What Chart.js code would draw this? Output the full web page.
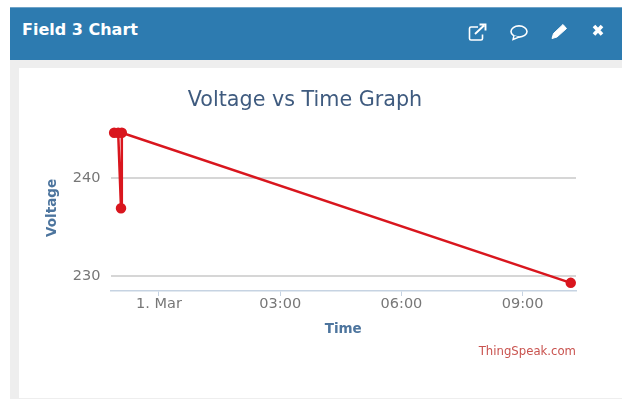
<!DOCTYPE html>
<html lang="en">
<head>
  <meta charset="UTF-8" />
  <title>Field 3 Chart</title>
  <script src="https://cdn.jsdelivr.net/npm/chart.js"></script>
  <style>
    html, body { margin: 0; padding: 0; background: #fff; overflow: hidden; }
    #page { position: relative; width: 622px; height: 400px; font-family: "DejaVu Sans", sans-serif; }
    #panel { position: absolute; left: 10px; top: 7px; width: 612px; height: 392px; background: #eeeeee; }
    #head { position: absolute; left: 0; top: 0; width: 612px; height: 53px; background: #2d7bb0; border-top: 1px solid #6fa3c8; box-sizing: border-box; }
    #head h1 { position: absolute; left: 12px; top: 11px; margin: 0; font-size: 16px; line-height: 22px; font-weight: bold; color: #fff; }
    #head svg { position: absolute; left: 0; top: 0; }
    #inner { position: absolute; left: 9px; top: 61px; width: 603px; height: 330px; background: #fff; }
    #chartBox { position: absolute; left: 0; top: 0; width: 622px; height: 400px; }
    #credit { position: absolute; right: 46px; top: 343px; font-size: 11.7px; line-height: 16px; color: #c9534f; }
  </style>
</head>

<body>
  <div id="page">
    <div id="panel">
      <div id="head">
        <h1>Field 3 Chart</h1>
        <svg width="612" height="53" viewBox="0 0 612 53">
          <!-- external link -->
          <path d="M468 19 h-7 a1.5 1.5 0 0 0 -1.5 1.5 v10 a1.5 1.5 0 0 0 1.5 1.5 h10 a1.5 1.5 0 0 0 1.5 -1.5 v-4" fill="none" stroke="#fff" stroke-width="1.6" />
          <path d="M465 26 L474 17.5 M469.5 16.5 h6 v6" fill="none" stroke="#fff" stroke-width="1.9" />
          <!-- comment -->
          <ellipse cx="509" cy="23.5" rx="8" ry="5.6" fill="none" stroke="#fff" stroke-width="1.6" />
          <path d="M504 27.5 L503 31.5 L509 29.2" fill="#2d7bb0" stroke="#fff" stroke-width="1.4" />
          <!-- pencil -->
          <path d="M542 30.5 L543.5 25.5 L553 16.5 L556.5 20.5 L547 29 Z" fill="#fff" stroke="#fff" stroke-width="1" stroke-linejoin="round" />
          <!-- close -->
          <path d="M584 18 L592 26.5 M592 18 L584 26.5" fill="none" stroke="#fff" stroke-width="3.6" />
        </svg>
      </div>
      <div id="inner"></div>
    </div>
    <div id="chartBox"><canvas id="voltageChart" width="622" height="400"></canvas></div>
    <div id="credit">ThingSpeak.com</div>
  </div>

  <script>
    // hours counted from midnight on 1 March
    const timeHours = [-1.11, -1.01, -0.94, -0.92, 10.19];
    const voltage = [244.6, 244.6, 236.9, 244.6, 229.3];
    const xTickHours = [0, 3, 6, 9];
    const xTickLabels = ['1. Mar', '03:00', '06:00', '09:00'];
    const yTicks = [230, 240];

    const gray = '#777777';
    const axisBlue = '#4d759e';
    const axisLine = '#c6d3e2';

    new Chart(document.getElementById('voltageChart'), {
      type: 'line',
      data: {
        datasets: [{
          data: timeHours.map((t, i) => ({ x: t, y: voltage[i] })),
          borderColor: '#d9161e',
          backgroundColor: '#d9161e',
          borderWidth: 2.5,
          pointRadius: 4,
          tension: 0,
          clip: false
        }]
      },
      options: {
        responsive: false,
        animation: false,
        layout: { padding: { left: 34, right: 46, top: 17, bottom: 62 } },
        plugins: {
          legend: { display: false },
          tooltip: { enabled: false },
          title: {
            display: true,
            text: 'Voltage vs Time Graph',
            color: '#3f5b7f',
            font: { family: 'DejaVu Sans', size: 20.7, weight: 'normal' },
            padding: { top: 71, bottom: 12 }
          }
        },
        scales: {
          x: {
            type: 'linear',
            min: -1.2,
            max: 10.32,
            afterBuildTicks: s => { s.ticks = xTickHours.map(v => ({ value: v })); },
            afterFit: s => { s.height = 47; },
            ticks: {
              autoSkip: false,
              maxRotation: 0,
              color: gray,
              font: { family: 'DejaVu Sans', size: 14.5 },
              padding: 0,
              callback: v => xTickLabels[xTickHours.indexOf(v)]
            },
            grid: { drawOnChartArea: false, drawTicks: true, tickLength: 5, color: axisLine },
            border: { color: axisLine, width: 1.5 },
            title: {
              display: true,
              text: 'Time',
              color: axisBlue,
              font: { family: 'DejaVu Sans', size: 13.5, weight: 'bold' },
              padding: { top: 0, bottom: 0 }
            }
          },
          y: {
            type: 'linear',
            min: 228.47,
            max: 245.4,
            afterBuildTicks: s => { s.ticks = yTicks.map(v => ({ value: v })); },
            afterFit: s => { s.width = 76.5; },
            ticks: {
              color: gray,
              font: { family: 'DejaVu Sans', size: 14.5 },
              padding: 10
            },
            grid: { drawTicks: false, color: '#d6d6d6', lineWidth: 2 },
            border: { display: false },
            title: {
              display: true,
              text: 'Voltage',
              color: axisBlue,
              font: { family: 'DejaVu Sans', size: 13.5, weight: 'bold' },
              padding: { top: 10, bottom: 0 }
            }
          }
        }
      }
    });
  </script>
</body>
</html>
